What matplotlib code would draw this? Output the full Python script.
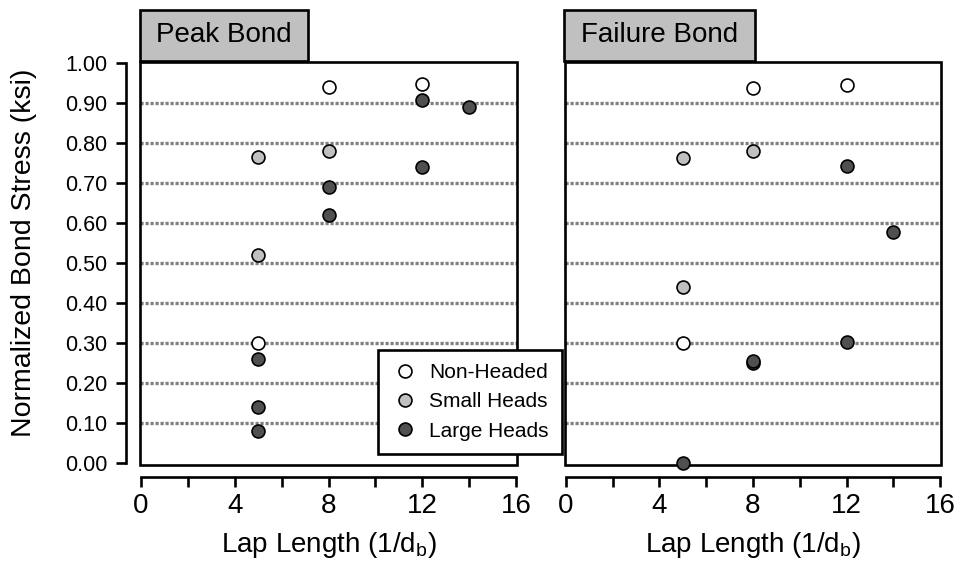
import matplotlib
matplotlib.use('Agg')
import matplotlib.pyplot as plt
from matplotlib.patches import Rectangle
from matplotlib.lines import Line2D

plt.rcParams['font.family'] = ['Liberation Sans', 'DejaVu Sans']
plt.rcParams['mathtext.fontset'] = 'custom'
plt.rcParams['mathtext.rm'] = 'Liberation Sans'

# ---------------- data ----------------
panel_titles = ['Peak Bond', 'Failure Bond']
series_names = ['Non-Headed', 'Small Heads', 'Large Heads']
series_colors = ['#ffffff', '#c0c0c0', '#505050']

peak_nonheaded_x = [5, 8, 12]
peak_nonheaded_y = [0.30, 0.94, 0.947]
peak_small_x = [5, 5, 8]
peak_small_y = [0.765, 0.52, 0.78]
peak_large_x = [5, 5, 5, 8, 8, 12, 12, 14]
peak_large_y = [0.26, 0.14, 0.08, 0.69, 0.62, 0.908, 0.74, 0.89]

fail_nonheaded_x = [5, 8, 12]
fail_nonheaded_y = [0.30, 0.938, 0.945]
fail_small_x = [5, 5, 8]
fail_small_y = [0.762, 0.44, 0.78]
fail_large_x = [5, 8, 8, 12, 12, 14]
fail_large_y = [0.0, 0.25, 0.256, 0.743, 0.304, 0.578]

x_ticks = [0, 4, 8, 12, 16]
x_minor_ticks = [2, 6, 10, 14]
y_ticks = [0.0, 0.1, 0.2, 0.3, 0.4, 0.5, 0.6, 0.7, 0.8, 0.9, 1.0]
grid_levels = [0.1, 0.2, 0.3, 0.4, 0.5, 0.6, 0.7, 0.8, 0.9]

x_label = 'Lap Length (1/d$_{\\mathregular{b}}$)'
y_label = 'Normalized Bond Stress (ksi)'

panels = [
    [(peak_nonheaded_x, peak_nonheaded_y), (peak_small_x, peak_small_y), (peak_large_x, peak_large_y)],
    [(fail_nonheaded_x, fail_nonheaded_y), (fail_small_x, fail_small_y), (fail_large_x, fail_large_y)],
]

# ---------------- layout ----------------
W, H = 958, 567
fig = plt.figure(figsize=(W / 100, H / 100), dpi=100)


def px_axes(x0, y0, x1, y1):
    return fig.add_axes([x0 / W, 1 - y1 / H, (x1 - x0) / W, (y1 - y0) / H])


axes_px = [(140, 62, 517, 465), (565, 62, 941, 465)]
title_px = [(140, 10, 308, 61), (564, 10, 755, 61)]
LW = 1.9
PX = 0.72  # points per pixel

for i, (ax_box, series) in enumerate(zip(axes_px, panels)):
    ax = px_axes(*ax_box)
    ax.set_xlim(-0.04, 16.04)
    ax.set_ylim(-0.004, 1.003)
    for s in ['top', 'right', 'left', 'bottom']:
        ax.spines[s].set_visible(False)
    # frame
    ax.add_patch(Rectangle((0, 0), 1, 1, transform=ax.transAxes, fill=False,
                           ec='black', lw=LW, clip_on=False, zorder=2.5))
    # grid
    ax.hlines(grid_levels, 0, 1, transform=ax.get_yaxis_transform(),
              colors='#808080', linewidth=2.4, linestyles=(0, (0.95, 0.55)), zorder=1)
    # x axis
    ax.spines['bottom'].set_visible(True)
    ax.spines['bottom'].set_position(('outward', 12 * PX))
    ax.spines['bottom'].set_bounds(0, 16)
    ax.spines['bottom'].set_linewidth(LW)
    ax.set_xticks(x_ticks)
    ax.set_xticks(x_minor_ticks, minor=True)
    ax.set_xticklabels([str(t) for t in x_ticks])
    ax.tick_params(axis='x', which='both', direction='out', length=10 * PX, width=LW,
                   labelsize=20, pad=4)
    ax.set_xlabel(x_label, fontsize=20, labelpad=8)
    # y axis
    if i == 0:
        ax.spines['left'].set_visible(True)
        ax.spines['left'].set_position(('outward', 14 * PX))
        ax.spines['left'].set_bounds(0, 1)
        ax.spines['left'].set_linewidth(LW)
        ax.set_yticks(y_ticks)
        ax.set_yticklabels(['%.2f' % v for v in y_ticks])
        ax.tick_params(axis='y', direction='out', length=10 * PX, width=LW,
                       labelsize=15.5, pad=6)
    else:
        ax.set_yticks([])
    # points
    for (xs, ys), col in zip(series, series_colors):
        ax.plot(xs, ys, 'o', ms=9.3, mfc=col, mec='black', mew=1.2, ls='none',
                zorder=3, clip_on=False)
    ax.patch.set_visible(False)

    # title box
    x0, y0, x1, y1 = title_px[i]
    fig.add_artist(Rectangle((x0 / W, 1 - y1 / H), (x1 - x0) / W, (y1 - y0) / H,
                             transform=fig.transFigure, fc='#c0c0c0', ec='black', lw=LW))
    fig.text((x0 + x1) / 2 / W, 1 - (y0 + y1) / 2 / H, panel_titles[i], fontsize=20,
             ha='center', va='center')

fig.text(24 / W, 1 - 253 / H, y_label, rotation=90, ha='center', va='center', fontsize=20.5)

handles = [Line2D([], [], marker='o', ls='none', ms=9.3, mfc=c, mec='black', mew=1.2)
           for c in series_colors]
leg = fig.legend(handles, series_names, loc='upper left',
                 bbox_to_anchor=(378 / W, 1 - 350 / H), frameon=True, fancybox=False,
                 edgecolor='black', framealpha=1, fontsize=15, borderaxespad=0,
                 handlelength=1.35, handletextpad=0.5, borderpad=0.62, labelspacing=0.5)
leg.get_frame().set_linewidth(LW)

fig.savefig('out.png', dpi=100)
